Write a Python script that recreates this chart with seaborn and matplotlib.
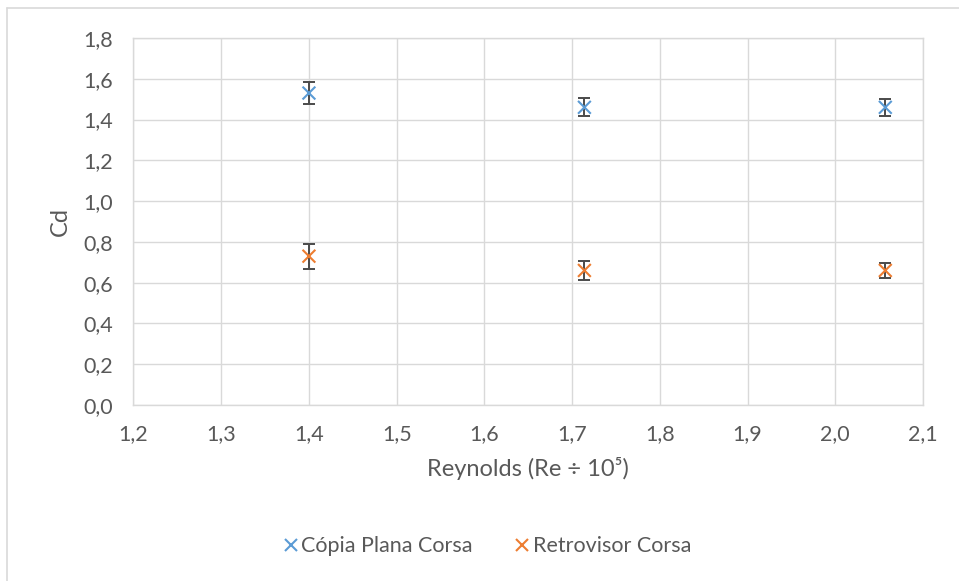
import matplotlib
matplotlib.use("Agg")
import matplotlib.pyplot as plt
import seaborn as sns
import pandas as pd
from matplotlib.lines import Line2D

# Reynolds numbers (Re / 10^5) and drag coefficients with their uncertainties
reynolds = [1.400, 1.714, 2.057]
cd_copia = [1.53, 1.46, 1.46]
err_copia = [0.056, 0.044, 0.042]
cd_retro = [0.73, 0.66, 0.66]
err_retro = [0.061, 0.047, 0.038]
series_names = ["Cópia Plana Corsa", "Retrovisor Corsa"]
x_ticks = [1.2, 1.3, 1.4, 1.5, 1.6, 1.7, 1.8, 1.9, 2.0, 2.1]
y_ticks = [0.0, 0.2, 0.4, 0.6, 0.8, 1.0, 1.2, 1.4, 1.6, 1.8]

colors = ["#5B9BD5", "#ED7D31"]
text_color = "#595959"
grid_color = "#D9D9D9"

sns.set_style("white")
plt.rcParams["font.family"] = ["Lato", "DejaVu Sans"]

df = pd.DataFrame({
    "Re": reynolds * 2,
    "Cd": cd_copia + cd_retro,
    "err": err_copia + err_retro,
    "serie": [series_names[0]] * len(reynolds) + [series_names[1]] * len(reynolds),
})

fig = plt.figure(figsize=(9.59, 5.81), dpi=100)
ax = fig.add_axes([0.1392, 0.3029, 0.8233, 0.6317])

# error bars under the markers
ax.errorbar(df["Re"], df["Cd"], yerr=df["err"], fmt="none",
            ecolor="#4A4A4A", elinewidth=1.4, capsize=4.5, capthick=1.4, zorder=2)

sns.scatterplot(data=df, x="Re", y="Cd", hue="serie", palette=colors,
                marker="x", s=85, linewidth=1.5, ax=ax, legend=False, zorder=3)

ax.set_xlim(1.2, 2.1)
ax.set_ylim(0, 1.8)
ax.set_xticks(x_ticks)
ax.set_yticks(y_ticks)
ax.set_xticklabels([f"{v:.1f}".replace(".", ",") for v in x_ticks])
ax.set_yticklabels([f"{v:.1f}".replace(".", ",") for v in y_ticks])
ax.tick_params(axis="both", length=0, labelsize=15.5, labelcolor=text_color)
ax.tick_params(axis="y", pad=15)
ax.tick_params(axis="x", pad=14)
ax.grid(True, color=grid_color, linewidth=1)
ax.set_axisbelow(True)
for sp in ax.spines.values():
    sp.set_color(grid_color)
    sp.set_linewidth(1)

ax.set_xlabel("Reynolds (Re ÷ 10⁵)", fontsize=17, color=text_color, labelpad=9)
ax.set_ylabel("Cd", fontsize=17, color=text_color, labelpad=9)

handles = [Line2D([], [], linestyle="none", marker="x", markersize=9,
                  markeredgewidth=1.5, color=c) for c in colors]
fig.legend(handles, series_names, loc="center", bbox_to_anchor=(0.507, 0.06),
           ncol=2, frameon=False, fontsize=15.5, labelcolor=text_color,
           handletextpad=0.05, columnspacing=1.85, handlelength=0.9)

# chart frame (left and top edges)
fig.add_artist(Line2D([7 / 959, 7 / 959], [0, 1 - 8 / 581], color=grid_color,
                      linewidth=1.2, transform=fig.transFigure))
fig.add_artist(Line2D([7 / 959, 1], [1 - 8 / 581, 1 - 8 / 581], color=grid_color,
                      linewidth=1.2, transform=fig.transFigure))

fig.savefig("out.png", dpi=100)
